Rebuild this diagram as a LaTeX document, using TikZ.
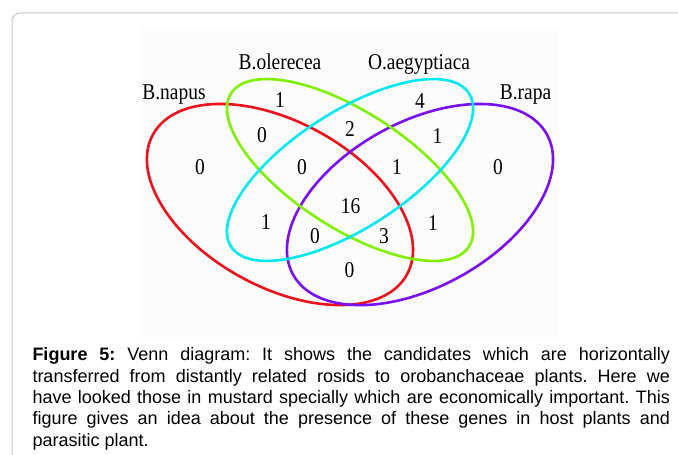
\documentclass[tikz,border=0pt]{standalone}
\usepackage{fontspec}
\setmainfont{Liberation Serif}
\newfontfamily\vennfont[FakeStretch=0.86]{Liberation Serif}
\newfontfamily\capfont{Liberation Sans}
\definecolor{vred}{RGB}{236,18,28}
\definecolor{vgreen}{RGB}{128,240,0}
\definecolor{vcyan}{RGB}{0,232,240}
\definecolor{vpurple}{RGB}{122,16,240}
\definecolor{framegray}{RGB}{200,200,200}
\definecolor{imgbg}{RGB}{252,252,252}
\frenchspacing
\begin{document}
\begin{tikzpicture}[x=1pt,y=1pt,
  vset/.style={line width=2.6pt},
  num/.style={font=\vennfont\fontsize{22.6}{26}\selectfont, inner sep=0pt},
  setlabel/.style={font=\vennfont\fontsize{22.6}{26}\selectfont, inner sep=0pt, anchor=base},
  capline/.style={font=\capfont\fontsize{18}{21.3}\selectfont, inner sep=0pt, anchor=base west}]
\useasboundingbox (0,0) rectangle (678,455);
\fill[white] (0,0) rectangle (678,455);
\fill[imgbg] (141,116) rectangle (558,428);
\draw[framegray, line width=1pt, rounded corners=8pt] (12,-20) -- (12,442) -- (700,442);

% ellipse centres
\coordinate (cr) at (280,250.5);
\coordinate (cp) at (420,250.5);
\coordinate (cm) at (350,285);

\draw[vset, vred, rotate around={-28.9:(cr)}] (cr) ellipse [x radius=145pt, y radius=82.4pt];
\draw[vset, vpurple, rotate around={28.9:(cp)}] (cp) ellipse [x radius=145pt, y radius=82.4pt];
\draw[vset, vgreen, rotate around={-32.8:(cm)}] (cm) ellipse [x radius=141.5pt, y radius=58.2pt];
\draw[vset, vcyan, rotate around={32.8:(cm)}] (cm) ellipse [x radius=141.5pt, y radius=58.2pt];

% set labels
\node[setlabel] (lnapus) at (174,355) {B.napus};
\node[setlabel] (lole) at (280,385) {B.olerecea};
\node[setlabel] (laeg) at (419,385) {O.aegyptiaca};
\node[setlabel] (lrapa) at (525.5,355) {B.rapa};

% region counts
\node[num] (n1) at (280,354.5) {1};
\node[num] (n2) at (420,354) {4};
\node[num] (n3) at (262,320) {0};
\node[num] (n4) at (350,326) {2};
\node[num] (n5) at (437.5,319) {1};
\node[num] (n6) at (200,288) {0};
\node[num] (n7) at (302,288) {0};
\node[num] (n8) at (397,288) {1};
\node[num] (n9) at (498,288) {0};
\node[num] (n10) at (350.5,249) {16};
\node[num] (n11) at (266,233) {1};
\node[num] (n12) at (433,232) {1};
\node[num] (n13) at (315,218.5) {0};
\node[num] (n14) at (384,218.5) {3};
\node[num] (n15) at (349.5,184.5) {0};

% caption
\node[capline] (cap1) at (32.3,94) {\makebox[637.4pt][s]{\bfseries Figure 5: \mdseries Venn diagram: It shows the candidates which are horizontally}};
\node[capline] (cap2) at (32.3,72.7) {\makebox[637.4pt][s]{transferred from distantly related rosids to orobanchaceae plants. Here we}};
\node[capline] (cap3) at (32.3,51.4) {\makebox[637.4pt][s]{have looked those in mustard specially which are economically important. This}};
\node[capline] (cap4) at (32.3,30.1) {\makebox[637.4pt][s]{figure gives an idea about the presence of these genes in host plants and}};
\node[capline] (cap5) at (32.3,8.8) {parasitic plant.};
\end{tikzpicture}
\end{document}
